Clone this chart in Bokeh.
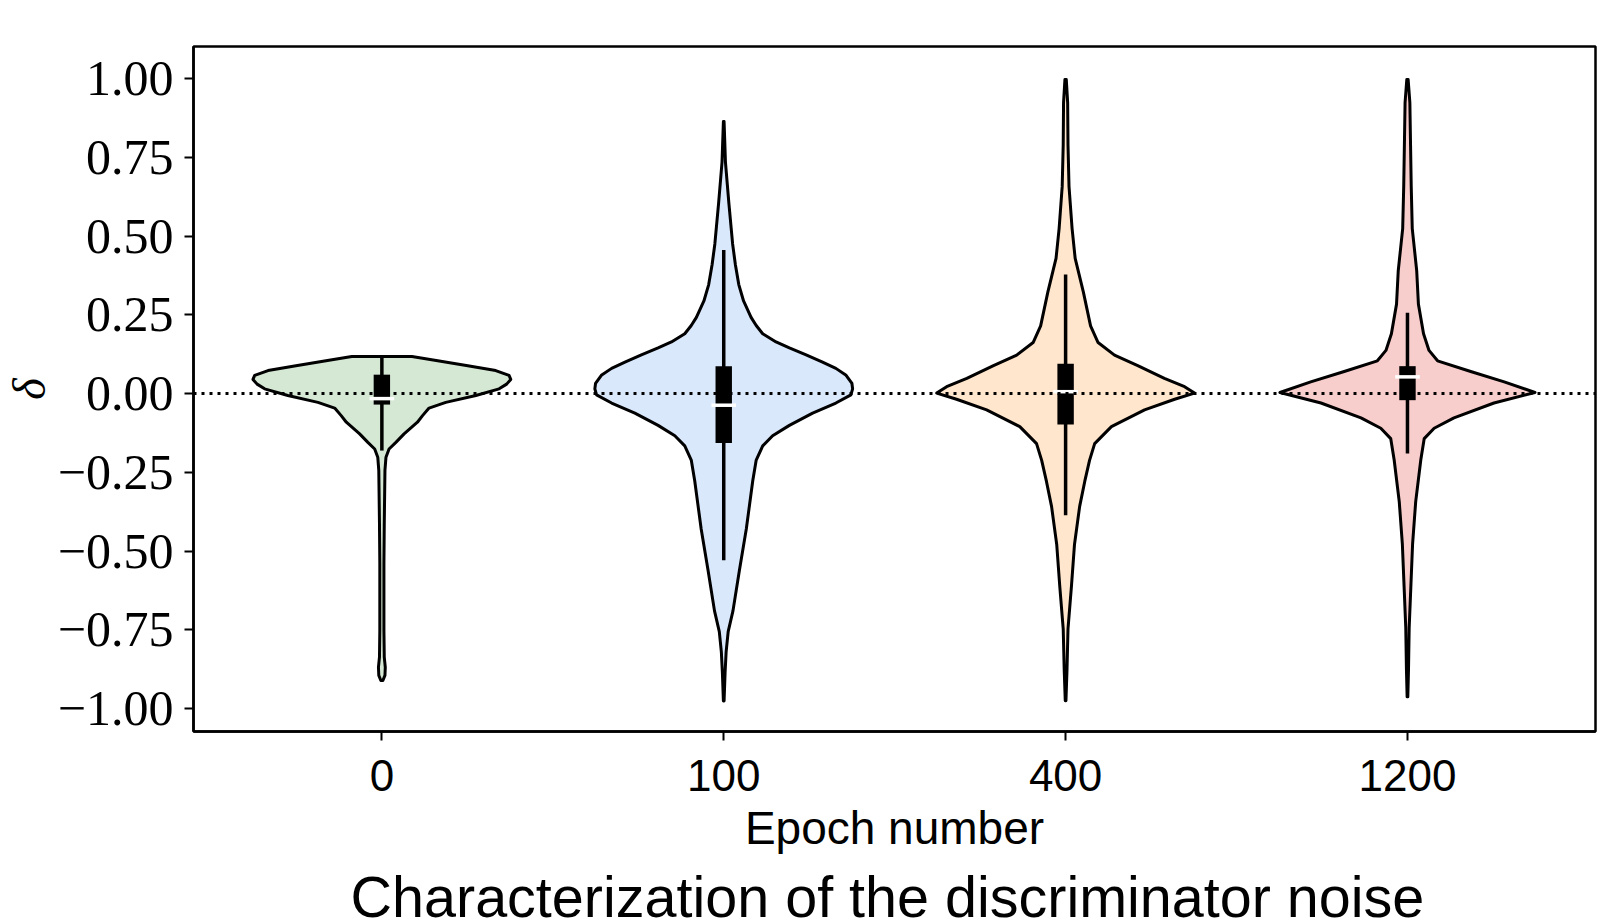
from bokeh.plotting import figure
from bokeh.models import Range1d, FixedTicker, Span, Title
from bokeh.embed import file_html
from bokeh.resources import INLINE

# ---------------- data ----------------
epochs = ["0", "100", "400", "1200"]
positions = [0, 1, 2, 3]
colors = ["#d5e8d4", "#dae8fc", "#ffe6cc", "#f8cecc"]

# violin outlines: delta levels (top -> bottom) and half-widths (category units)
v0_y = [0.1175, 0.105, 0.089, 0.073, 0.058, 0.045, 0.03, 0.015, -0.006, -0.028, -0.046,
        -0.07, -0.091, -0.128, -0.155, -0.176, -0.202, -0.244, -0.329, -0.414, -0.54,
        -0.752, -0.837, -0.869, -0.895, -0.911]
v0_w = [0.088, 0.159, 0.247, 0.333, 0.372, 0.377, 0.365, 0.343, 0.275, 0.187, 0.138,
        0.119, 0.104, 0.065, 0.041, 0.021, 0.012, 0.009, 0.008, 0.007, 0.006,
        0.006, 0.007, 0.010, 0.009, 0.003]

v1_y = [0.864, 0.80, 0.735, 0.605, 0.475, 0.41, 0.346, 0.294, 0.242, 0.216, 0.19, 0.164,
        0.145, 0.123, 0.10, 0.08, 0.058, 0.032, 0.015, -0.004, -0.03, -0.062, -0.101,
        -0.134, -0.166, -0.211, -0.276, -0.43, -0.56, -0.69, -0.756, -0.82, -0.885, -0.976]
v1_w = [0.001, 0.003, 0.005, 0.015, 0.026, 0.034, 0.044, 0.058, 0.080, 0.095, 0.114, 0.153,
        0.192, 0.241, 0.289, 0.328, 0.358, 0.375, 0.377, 0.372, 0.328, 0.26, 0.192,
        0.143, 0.114, 0.095, 0.085, 0.066, 0.046, 0.027, 0.013, 0.007, 0.004, 0.001]

v2_y = [0.997, 0.924, 0.79, 0.657, 0.524, 0.429, 0.322, 0.215, 0.162, 0.122, 0.089, 0.048,
        0.022, 0.0015, -0.018, -0.052, -0.105, -0.159, -0.212, -0.279, -0.359, -0.479,
        -0.613, -0.747, -0.88, -0.975]
v2_w = [0.002, 0.006, 0.007, 0.010, 0.019, 0.028, 0.052, 0.073, 0.095, 0.143, 0.211, 0.289,
        0.348, 0.377, 0.319, 0.231, 0.134, 0.085, 0.070, 0.056, 0.041, 0.026,
        0.017, 0.007, 0.004, 0.001]

v3_y = [0.997, 0.924, 0.79, 0.657, 0.524, 0.39, 0.284, 0.19, 0.137, 0.104, 0.07, 0.037,
        0.0035, -0.03, -0.077, -0.11, -0.143, -0.21, -0.344, -0.477, -0.61, -0.743,
        -0.877, -0.963]
v3_w = [0.002, 0.007, 0.009, 0.011, 0.014, 0.027, 0.032, 0.047, 0.063, 0.088, 0.185, 0.283,
        0.373, 0.253, 0.136, 0.078, 0.049, 0.039, 0.024, 0.015, 0.010, 0.005,
        0.003, 0.001]

# inner box statistics
q1 = [-0.035, -0.157, -0.098, -0.021]
q3 = [0.06, 0.087, 0.095, 0.087]
medians = [-0.016, -0.037, 0.006, 0.053]
whisk_lo = [-0.181, -0.529, -0.386, -0.19]
whisk_hi = [0.117, 0.456, 0.378, 0.257]

y_ticks = [1.0, 0.75, 0.5, 0.25, 0.0, -0.25, -0.5, -0.75, -1.0]
y_tick_labels = ["1.00", "0.75", "0.50", "0.25", "0.00",
                 "\u22120.25", "\u22120.50", "\u22120.75", "\u22121.00"]

x_label = "Epoch number"
y_label = "\u03b4"
title_text = "Characterization of the discriminator noise"

# ---------------- figure ----------------
p = figure(frame_width=1402, frame_height=685,
           x_range=Range1d(-0.551, 3.55), y_range=Range1d(-1.073, 1.102),
           output_backend="svg", toolbar_location=None,
           min_border_left=187, min_border_right=11,
           min_border_top=46, min_border_bottom=190)
p.background_fill_color = "white"
p.border_fill_color = "white"
p.outline_line_color = "black"
p.outline_line_width = 2.5
p.xgrid.visible = False
p.ygrid.visible = False

outlines_y = [v0_y, v1_y, v2_y, v3_y]
outlines_w = [v0_w, v1_w, v2_w, v3_w]
xs, ys = [], []
for pos, yy, ww in zip(positions, outlines_y, outlines_w):
    xs.append([pos + w for w in ww] + [pos - w for w in reversed(ww)])
    ys.append(list(yy) + list(reversed(yy)))
p.patches(xs, ys, fill_color=colors, line_color="black", line_width=3,
          line_join="round")

p.add_layout(Span(location=0, dimension="width", line_color="black",
                  line_width=3, line_dash="3 5"))

p.segment(x0=positions, y0=whisk_lo, x1=positions, y1=whisk_hi,
          line_color="black", line_width=3.5)
p.vbar(x=positions, width=0.048, top=q3, bottom=q1, fill_color="black", line_color=None)
p.rect(x=positions, y=medians, width=0.072, height=3.5, height_units="screen",
       fill_color="white", line_color=None)

# axes
for ax in (p.xaxis[0], p.yaxis[0]):
    ax.axis_line_width = 2.5
    ax.major_tick_line_width = 2
    ax.major_tick_out = 9
    ax.major_tick_in = 0
    ax.minor_tick_line_color = None

p.xaxis.ticker = FixedTicker(ticks=positions)
p.xaxis.major_label_overrides = {pos: lab for pos, lab in zip(positions, epochs)}
p.xaxis.major_label_text_font = "Liberation Sans"
p.xaxis.major_label_text_font_size = "44px"
p.xaxis.major_label_text_color = "black"
p.xaxis.major_label_standoff = 19
p.xaxis.axis_label = x_label
p.xaxis.axis_label_text_font = "Liberation Sans"
p.xaxis.axis_label_text_font_size = "46px"
p.xaxis.axis_label_text_font_style = "normal"
p.xaxis.axis_label_text_color = "black"
p.xaxis.axis_label_standoff = 8

p.yaxis.ticker = FixedTicker(ticks=y_ticks)
p.yaxis.major_label_overrides = {t: lab for t, lab in zip(y_ticks, y_tick_labels)}
p.yaxis.major_label_text_font = "Liberation Serif"
p.yaxis.major_label_text_font_size = "50px"
p.yaxis.major_label_text_color = "black"
p.yaxis.major_label_standoff = 11
p.yaxis.axis_label = y_label
p.yaxis.axis_label_text_font = "Liberation Serif"
p.yaxis.axis_label_text_font_size = "46px"
p.yaxis.axis_label_text_font_style = "italic"
p.yaxis.axis_label_text_color = "black"
p.yaxis.axis_label_standoff = 0

p.add_layout(Title(text=title_text, align="left", offset=157, standoff=12,
                   text_font="Liberation Sans", text_font_size="57.5px",
                   text_font_style="normal", text_color="black"), "below")

open("out.html", "w").write(file_html(p, INLINE))
